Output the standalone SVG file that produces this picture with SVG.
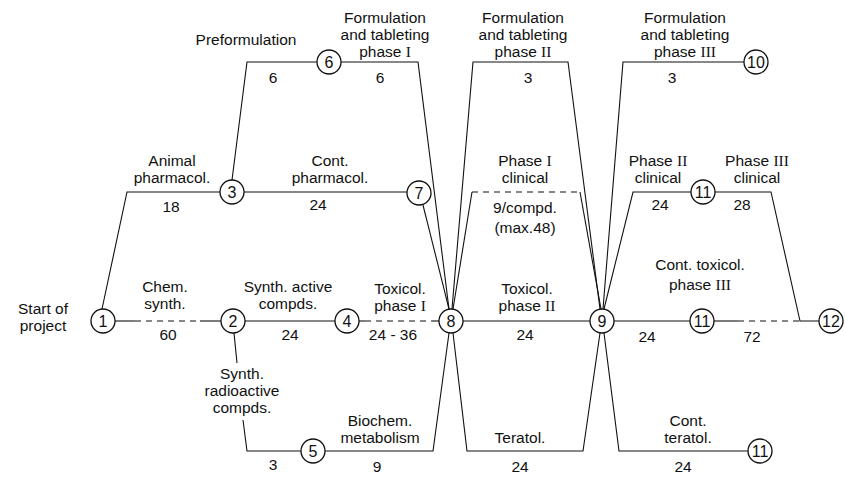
<svg xmlns="http://www.w3.org/2000/svg" width="845" height="477" viewBox="0 0 845 477">
<style>
.t{font-family:"Liberation Sans",Arial,sans-serif;font-size:15.5px;fill:#111;text-anchor:middle}
.r{font-family:"Liberation Serif","Times New Roman",serif}
.n{font-family:"Liberation Sans",Arial,sans-serif;font-size:16px;fill:#111;text-anchor:middle}
.c{fill:#fff;stroke:#111;stroke-width:1.3}
.l{fill:none;stroke:#111;stroke-width:1.1}
.d{fill:none;stroke:#111;stroke-width:1.1;stroke-dasharray:6 5}
</style>
<rect width="845" height="477" fill="#fff"/>
<g id="connectors">
<path class="l" d="M102,309 L127,192 H220"/>
<path class="l" d="M232,180 L247,62 H317"/>
<path class="l" d="M341,62 H418 L449,309"/>
<path class="l" d="M244,192 H407"/>
<path class="l" d="M423,205 L449,309"/>
<path class="l" d="M452,309 L473,62 H568 L600,309"/>
<path class="l" d="M453,309 L472,192"/>
<path class="d" d="M472,192 H580"/>
<path class="l" d="M580,192 L601,309"/>
<path class="l" d="M603,309 L623,62 H744"/>
<path class="l" d="M604,309 L633,192 H691"/>
<path class="l" d="M715,192 H771 L800,321 H819"/>
<path class="l" d="M115,321 H135"/>
<path class="d" d="M135,321 H200"/>
<path class="l" d="M200,321 H221"/>
<path class="l" d="M245,321 H335"/>
<path class="l" d="M359,321 H365"/>
<path class="d" d="M365,321 H432"/>
<path class="l" d="M432,321 H439"/>
<path class="l" d="M463,321 H590"/>
<path class="l" d="M614,321 H690"/>
<path class="l" d="M714,321 H738"/>
<path class="d" d="M738,321 H800"/>
<path class="l" d="M234,333 L237,363 M243,420 L247,451 H301"/>
<path class="l" d="M325,451 H433 L449,333"/>
<path class="l" d="M453,333 L467,451 H583 L600,333"/>
<path class="l" d="M604,333 L619,451 H748"/>
</g>
<g id="labels">
<text class="t" x="246" y="45">Preformulation</text>
<text class="t" x="273" y="83">6</text>
<text class="t" x="385" y="23">Formulation</text>
<text class="t" x="385" y="40">and tableting</text>
<text class="t" x="385" y="57">phase <tspan class="r">I</tspan></text>
<text class="t" x="380" y="83">6</text>
<text class="t" x="523" y="23">Formulation</text>
<text class="t" x="523" y="40">and tableting</text>
<text class="t" x="523" y="57">phase <tspan class="r">II</tspan></text>
<text class="t" x="528" y="83">3</text>
<text class="t" x="685" y="23">Formulation</text>
<text class="t" x="685" y="40">and tableting</text>
<text class="t" x="685" y="57">phase <tspan class="r">III</tspan></text>
<text class="t" x="672" y="83">3</text>
<text class="t" x="172" y="166">Animal</text>
<text class="t" x="172" y="183">pharmacol.</text>
<text class="t" x="171" y="212">18</text>
<text class="t" x="330" y="166">Cont.</text>
<text class="t" x="330" y="183">pharmacol.</text>
<text class="t" x="318" y="210">24</text>
<text class="t" x="525" y="166">Phase <tspan class="r">I</tspan></text>
<text class="t" x="525" y="183">clinical</text>
<text class="t" x="525" y="213">9/compd.</text>
<text class="t" x="525" y="233">(max.48)</text>
<text class="t" x="658" y="166">Phase <tspan class="r">II</tspan></text>
<text class="t" x="658" y="183">clinical</text>
<text class="t" x="660" y="210">24</text>
<text class="t" x="757" y="166">Phase <tspan class="r">III</tspan></text>
<text class="t" x="757" y="183">clinical</text>
<text class="t" x="742" y="210">28</text>
<text class="t" x="43" y="314">Start of</text>
<text class="t" x="43" y="331">project</text>
<text class="t" x="165" y="292">Chem.</text>
<text class="t" x="165" y="309">synth.</text>
<text class="t" x="168" y="340">60</text>
<text class="t" x="288" y="292">Synth. active</text>
<text class="t" x="288" y="309">compds.</text>
<text class="t" x="290" y="340">24</text>
<text class="t" x="400" y="294">Toxicol.</text>
<text class="t" x="400" y="311">phase <tspan class="r">I</tspan></text>
<text class="t" x="393" y="340">24 - 36</text>
<text class="t" x="527" y="294">Toxicol.</text>
<text class="t" x="527" y="311">phase <tspan class="r">II</tspan></text>
<text class="t" x="525" y="340">24</text>
<text class="t" x="700" y="270">Cont. toxicol.</text>
<text class="t" x="700" y="290">phase <tspan class="r">III</tspan></text>
<text class="t" x="647" y="342">24</text>
<text class="t" x="752" y="342">72</text>
<text class="t" x="242" y="379">Synth.</text>
<text class="t" x="242" y="396">radioactive</text>
<text class="t" x="242" y="413">compds.</text>
<text class="t" x="273" y="470">3</text>
<text class="t" x="380" y="426">Biochem.</text>
<text class="t" x="380" y="443">metabolism</text>
<text class="t" x="377" y="472">9</text>
<text class="t" x="520" y="443">Teratol.</text>
<text class="t" x="520" y="472">24</text>
<text class="t" x="688" y="426">Cont.</text>
<text class="t" x="688" y="443">teratol.</text>
<text class="t" x="683" y="472">24</text>
</g>
<g id="node1"><circle class="c" cx="103" cy="321" r="12"/><text class="n" x="103" y="327">1</text></g>
<g id="node2"><circle class="c" cx="233" cy="321" r="12"/><text class="n" x="233" y="327">2</text></g>
<g id="node3"><circle class="c" cx="232" cy="192" r="12"/><text class="n" x="232" y="198">3</text></g>
<g id="node4"><circle class="c" cx="347" cy="321" r="12"/><text class="n" x="347" y="327">4</text></g>
<g id="node5"><circle class="c" cx="313" cy="451" r="12"/><text class="n" x="313" y="457">5</text></g>
<g id="node6"><circle class="c" cx="329" cy="62" r="12"/><text class="n" x="329" y="68">6</text></g>
<g id="node7"><circle class="c" cx="419" cy="193" r="12"/><text class="n" x="419" y="199">7</text></g>
<g id="node8"><circle class="c" cx="451" cy="321" r="12"/><text class="n" x="451" y="327">8</text></g>
<g id="node9"><circle class="c" cx="602" cy="321" r="12"/><text class="n" x="602" y="327">9</text></g>
<g id="node10"><circle class="c" cx="756" cy="62" r="12"/><text class="n" x="756" y="68">10</text></g>
<g id="node11a"><circle class="c" cx="703" cy="192" r="12"/><text class="n" x="703" y="198">11</text></g>
<g id="node11b"><circle class="c" cx="702" cy="321" r="12"/><text class="n" x="702" y="327">11</text></g>
<g id="node11c"><circle class="c" cx="760" cy="451" r="12"/><text class="n" x="760" y="457">11</text></g>
<g id="node12"><circle class="c" cx="831" cy="321" r="12"/><text class="n" x="831" y="327">12</text></g>
</svg>
